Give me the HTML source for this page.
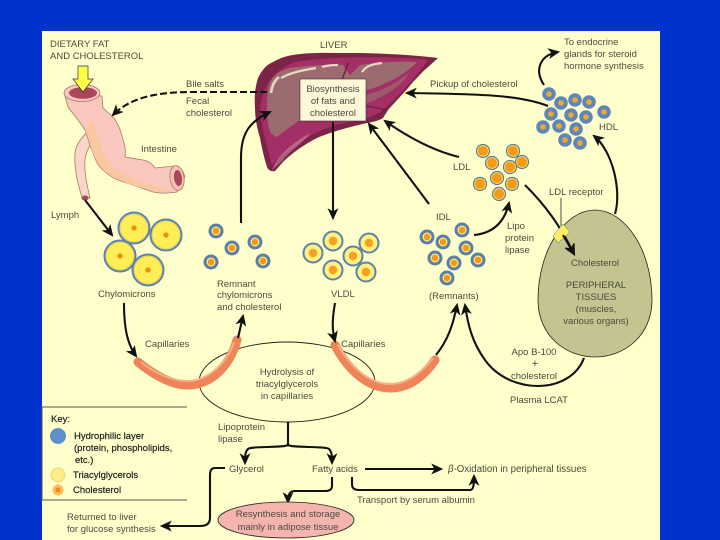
<!DOCTYPE html>
<html><head><meta charset="utf-8"><style>
html,body{margin:0;padding:0;background:#0033cc}
svg{display:block}
text{font-family:"Liberation Sans",sans-serif;font-size:9.5px;fill:#4a4a40;filter:blur(.25px)}
.m{text-anchor:middle}
.a{fill:none;stroke:#111;stroke-width:2.1}
.k{fill:#222;stroke:#222;stroke-width:.2}
</style></head><body>
<svg width="720" height="540" viewBox="0 0 720 540" xmlns="http://www.w3.org/2000/svg">
<defs>
<marker id="ah" markerWidth="12" markerHeight="11" refX="9" refY="5" orient="auto" markerUnits="userSpaceOnUse" viewBox="0 0 11 10"><path d="M0 0L11 5L0 10L3 5Z" fill="#111"/></marker>
<g id="chy"><circle r="15" fill="#ffee55" stroke="#5b82a8" stroke-width="3"/><circle r="14" fill="none" stroke="#f2d860" stroke-width="1"/><circle r="2.600" fill="#f08a10"/></g>
<g id="rem"><circle r="6" fill="#ffee90" stroke="#5b7fa6" stroke-width="3"/><circle r="3.300" fill="#f39a12"/></g>
<g id="vl"><circle r="9.500" fill="#fff080" stroke="#5b82a8" stroke-width="2"/><circle r="4.200" fill="#f5a020"/></g>
<g id="ldl"><circle r="6.500" fill="#ffe070" stroke="#5b7f8a" stroke-width="1.200"/><circle r="5" fill="#f59a12"/></g>
<g id="hdl"><circle r="6.800" fill="#5f86b8"/><circle r="2.800" fill="#eeaa30"/></g>
</defs>
<rect width="720" height="540" fill="#0033cc"/>
<rect x="42" y="31" width="618" height="509" fill="#ffffcc"/>

<!-- lymph duct -->
<path d="M93 128C84 134 76 143 75 153C74 168 78 185 82 197L90 198C87 185 84 172 85 160C86 150 92 142 97 134C98 129 96 127 93 128Z" fill="#fbd5c8" stroke="#a87868" stroke-width=".8"/>
<!-- intestine -->
<path d="M65 96L68 107C74 115 80 122 85 130C89 140 90 148 93 153C96 162 99 167 103 170C111 178 120 181 127 183L153 192C162 194 170 193 177 192L185 177C183 170 180 166 175 166L155 168C152 163 148 161 143 160L125 157C126 150 125 145 123 140C121 130 117 122 113 117L103 108L102 96Z" fill="#fbc8c0" stroke="#a87868" stroke-width=".8"/>
<path d="M85 130C90 140 90 148 93 153C97 164 103 172 115 178C130 185 150 192 175 192C150 185 125 178 112 165C102 155 98 135 92 118Z" fill="#f8c8a0"/>
<ellipse cx="82" cy="93" rx="18" ry="8.500" fill="#fbc8c0" stroke="#a87868" stroke-width=".8"/>
<ellipse cx="83" cy="93" rx="14" ry="5.800" fill="#a84858"/>
<ellipse cx="177" cy="178" rx="7" ry="12.500" transform="rotate(-8 177 178)" fill="#f8c0b8" stroke="#a87868" stroke-width=".8"/>
<ellipse cx="178" cy="178" rx="4" ry="8" transform="rotate(-8 178 178)" fill="#a84858"/>
<ellipse cx="85" cy="198" rx="3.500" ry="2.500" fill="#a84858"/>
<path d="M78 66H88V79H93L83 92L73 79H78Z" fill="#ffff44" stroke="#333" stroke-width=".7"/>

<!-- liver -->
<path d="M255 108C254 95 256 84 258 78C262 70 266 65 273 62C280 58 286 56 293 55C310 52 330 53 350 53C380 53 415 55 438 58L427 68C422 72 418 77 413 82C405 92 395 102 388 110L383 118C378 121 372 122 367 123C350 127 333 131 317 138C305 144 292 153 283 162L275 171C271 172 268 170 267 167C264 158 262 148 260 138C257 128 255 118 255 108Z" fill="#7c2348"/>
<path d="M260 110C262 90 270 72 295 62C330 56 395 56 428 60C415 78 400 95 385 108C375 118 360 120 340 124C310 132 290 148 272 165C268 150 262 130 260 110Z" fill="#a32f66"/>
<path d="M267 112C267 100 267 90 270 82C275 73 282 70 290 68C305 66 325 64 343 65L350 75L360 65C380 62 400 61 417 62C405 75 385 85 367 90C345 97 320 108 300 120C290 127 283 132 277 137C272 135 270 132 270 132C268 125 267 118 267 112Z" fill="#9b6b70"/>
<path d="M352 97C375 95 395 85 410 72C400 88 385 96 365 104C360 104 355 101 352 97Z" fill="#9b6b70" opacity=".7"/>
<path d="M357 104L387 110" stroke="#5c1c38" stroke-width="1"/>
<path d="M348 63L342 80" stroke="#5c1c38" stroke-width="1.200"/>
<path d="M272 170C278 155 290 145 310 133C305 142 290 150 283 160Z" fill="#d8a0b0" opacity=".5"/>
<path d="M281 78C292 72 304 70 316 68M322 67C328 65 334 65 338 65M362 72C366 66 372 64 382 63" stroke="#e8d8c0" stroke-width="2.200" fill="none"/>
<path d="M271 93C272 85 275 80 279 77" stroke="#e8d8c0" stroke-width="2.600" fill="none"/>
<rect x="300" y="79" width="66" height="42" fill="#fff8d8" stroke="#333" stroke-width=".6"/>
<text class="m" x="333" y="92">Biosynthesis</text>
<text class="m" x="333" y="104">of fats and</text>
<text class="m" x="333" y="116">cholesterol</text>

<!-- particles -->
<use href="#chy" x="134" y="228"/><use href="#chy" x="166" y="235"/><use href="#chy" x="120" y="256"/><use href="#chy" x="148" y="270"/>
<use href="#rem" x="216" y="231"/><use href="#rem" x="255" y="242"/><use href="#rem" x="232" y="248"/><use href="#rem" x="211" y="262"/><use href="#rem" x="263" y="261"/>
<use href="#vl" x="333" y="241"/><use href="#vl" x="313" y="253"/><use href="#vl" x="353" y="256"/><use href="#vl" x="333" y="270"/><use href="#vl" x="369" y="243"/><use href="#vl" x="366" y="272"/>
<use href="#rem" x="462" y="230"/><use href="#rem" x="427" y="237"/><use href="#rem" x="443" y="242"/><use href="#rem" x="466" y="248"/><use href="#rem" x="435" y="258"/><use href="#rem" x="454" y="263"/><use href="#rem" x="478" y="260"/><use href="#rem" x="447" y="278"/>
<use href="#ldl" x="483" y="151"/><use href="#ldl" x="513" y="151"/><use href="#ldl" x="492" y="163"/><use href="#ldl" x="522" y="162"/><use href="#ldl" x="510" y="167"/><use href="#ldl" x="497" y="178"/><use href="#ldl" x="480" y="184"/><use href="#ldl" x="512" y="184"/><use href="#ldl" x="499" y="194"/>
<use href="#hdl" x="549" y="94"/><use href="#hdl" x="561" y="103"/><use href="#hdl" x="575" y="100"/><use href="#hdl" x="589" y="102"/><use href="#hdl" x="604" y="112"/><use href="#hdl" x="551" y="114"/><use href="#hdl" x="571" y="115"/><use href="#hdl" x="586" y="117"/><use href="#hdl" x="543" y="127"/><use href="#hdl" x="559" y="126"/><use href="#hdl" x="576" y="129"/><use href="#hdl" x="565" y="140"/><use href="#hdl" x="580" y="143"/>

<!-- peripheral -->
<path d="M595 210C625 210 652 250 652 300C652 335 625 357 595 357C565 357 538 335 538 300C538 250 565 210 595 210Z" fill="#c4c490" stroke="#222" stroke-width=".8"/>
<text class="m" x="595" y="266">Cholesterol</text>
<text class="m" x="596" y="288">PERIPHERAL</text>
<text class="m" x="596" y="300">TISSUES</text>
<text class="m" x="596" y="312">(muscles,</text>
<text class="m" x="596" y="324">various organs)</text>

<!-- capillaries + ellipse -->
<ellipse cx="287" cy="382" rx="88" ry="40" fill="none" stroke="#222" stroke-width=".9"/>
<path d="M138 362C150 372 170 385 187 385C212 385 230 365 237 340" fill="none" stroke="#ee8458" stroke-width="9" stroke-linecap="round"/>
<path d="M141 362C152 371 170 381 187 381C208 381 227 363 234 342" fill="none" stroke="#f8b088" stroke-width="2"/>
<path d="M335 345C345 365 365 388 390 388C410 388 425 375 435 360" fill="none" stroke="#ee8458" stroke-width="9" stroke-linecap="round"/>
<path d="M338 345C348 363 367 384 390 384C408 384 422 372 433 358" fill="none" stroke="#f8b088" stroke-width="2"/>

<!-- arrows -->
<path class="a" stroke-width="2.400" stroke-dasharray="7 3" d="M267 92H192C155 92 130 98 113 115" marker-end="url(#ah)"/>
<path class="a" d="M241 223V158C241 135 248 122 270 112" marker-end="url(#ah)"/>
<path class="a" d="M333 122V218" marker-end="url(#ah)"/>
<path class="a" d="M85 200L112 235" marker-end="url(#ah)"/>
<path class="a" d="M548 106C520 95 480 94 407 93" marker-end="url(#ah)"/>
<path class="a" d="M544 85C534 70 540 55 558 52" marker-end="url(#ah)"/>
<path class="a" d="M459 157C430 150 405 135 385 121" marker-end="url(#ah)"/>
<path class="a" d="M429 204L369 124" marker-end="url(#ah)"/>
<path class="a" d="M474 235C495 233 505 220 509 203" marker-end="url(#ah)"/>
<path class="a" d="M525 185C545 205 560 225 574 254" marker-end="url(#ah)"/>
<path class="a" d="M615 214C622 190 612 150 594 136" marker-end="url(#ah)"/>
<path class="a" d="M124 303C124 330 128 345 136 356" marker-end="url(#ah)"/>
<path class="a" d="M238 338L243 316" marker-end="url(#ah)"/>
<path class="a" d="M335 303C332 320 332 330 335 341" marker-end="url(#ah)"/>
<path class="a" d="M436 355C448 340 453 325 457 305" marker-end="url(#ah)"/>
<path class="a" stroke-width="2.500" d="M584 358C570 395 510 395 485 360C472 342 468 325 465 305" marker-end="url(#ah)"/>
<path d="M553 236L563 224L570 232L558 243Z" fill="#ffee66" stroke="#666" stroke-width=".5"/>
<path class="a" d="M563 235L574 254" marker-end="url(#ah)"/>

<!-- lower tree -->
<path class="a" stroke-width="1.300" d="M288 422V445"/>
<path class="a" stroke-width="1.600" d="M288 445C284 448 250 446 248 449C245 452 245 456 245 463" marker-end="url(#ah)"/>
<path class="a" stroke-width="1.600" d="M288 445C292 448 326 446 329 449C332 452 332 456 332 463" marker-end="url(#ah)"/>
<path class="a" stroke-width="1.500" d="M225 468H215C211 468 210 471 210 475V518C210 524 206 526 200 526H162" marker-end="url(#ah)"/>
<path class="a" stroke-width="1.500" d="M332 477V486C332 490 329 491 325 491H295C290 491 288 494 288 502" marker-end="url(#ah)"/>
<path class="a" stroke-width="1.300" d="M352 477V484C352 489 355 490 360 490H470C473 490 474 487 474 476" marker-end="url(#ah)"/>
<path class="a" stroke-width="1" d="M365 469H441" marker-end="url(#ah)"/>

<ellipse cx="286" cy="520" rx="68" ry="18" fill="#f5b5ae" stroke="#222" stroke-width=".8"/>
<text class="m" x="288" y="517">Resynthesis and storage</text>
<text class="m" x="288" y="530">mainly in adipose tissue</text>

<!-- Labels -->
<text x="50" y="47">DIETARY FAT</text>
<text x="50" y="59">AND CHOLESTEROL</text>
<text x="320" y="48">LIVER</text>
<text x="186" y="87">Bile salts</text>
<text x="186" y="104">Fecal</text>
<text x="186" y="116">cholesterol</text>
<text x="141" y="152">Intestine</text>
<text x="51" y="218">Lymph</text>
<text x="98" y="297">Chylomicrons</text>
<text x="217" y="287">Remnant</text>
<text x="217" y="298">chylomicrons</text>
<text x="217" y="310">and cholesterol</text>
<text x="331" y="297">VLDL</text>
<text x="429" y="299">(Remnants)</text>
<text x="145" y="347">Capillaries</text>
<text x="341" y="347">Capillaries</text>
<text class="m" x="287" y="375">Hydrolysis of</text>
<text class="m" x="287" y="387">triacylglycerols</text>
<text class="m" x="287" y="399">in capillaries</text>
<text x="218" y="430">Lipoprotein</text>
<text x="218" y="442">lipase</text>
<text x="229" y="472">Glycerol</text>
<text x="312" y="472">Fatty acids</text>
<text x="448" y="472" style="font-size:9.700px"><tspan font-style="italic">β</tspan>-Oxidation in peripheral tissues</text>
<text x="357" y="503">Transport by serum albumin</text>
<text x="67" y="520">Returned to liver</text>
<text x="67" y="532">for glucose synthesis</text>
<text x="430" y="87">Pickup of cholesterol</text>
<text x="564" y="45">To endocrine</text>
<text x="564" y="57">glands for steroid</text>
<text x="564" y="69">hormone synthesis</text>
<text x="599" y="130">HDL</text>
<text x="453" y="170">LDL</text>
<text x="436" y="220">IDL</text>
<text x="549" y="195">LDL receptor</text>
<line x1="561" y1="198" x2="561" y2="226" stroke="#222" stroke-width=".8"/>
<text x="507" y="229">Lipo</text>
<text x="505" y="241">protein</text>
<text x="505" y="253">lipase</text>
<text class="m" x="534" y="355">Apo B-100</text>
<text class="m" x="535" y="367" style="font-size:11px">+</text>
<text class="m" x="534" y="379">cholesterol</text>
<text x="510" y="403">Plasma LCAT</text>

<!-- Key -->
<path d="M187 407H42V500H187" fill="none" stroke="#555" stroke-width="1"/>
<text x="51" y="422" class="k">Key:</text>
<circle cx="58" cy="436" r="8" fill="#5f8fc8"/>
<text x="74" y="439" class="k">Hydrophilic layer</text>
<text x="74" y="451" class="k">(protein, phospholipids,</text>
<text x="75" y="463" class="k">etc.)</text>
<circle cx="58" cy="475" r="7" fill="#ffee88" stroke="#e8d878"/>
<text x="73" y="478" class="k">Triacylglycerols</text>
<circle cx="58" cy="490" r="5.500" fill="#f8c060"/><circle cx="58" cy="490" r="2.500" fill="#f08a10"/>
<text x="73" y="493" class="k">Cholesterol</text>
</svg>
</body></html>
